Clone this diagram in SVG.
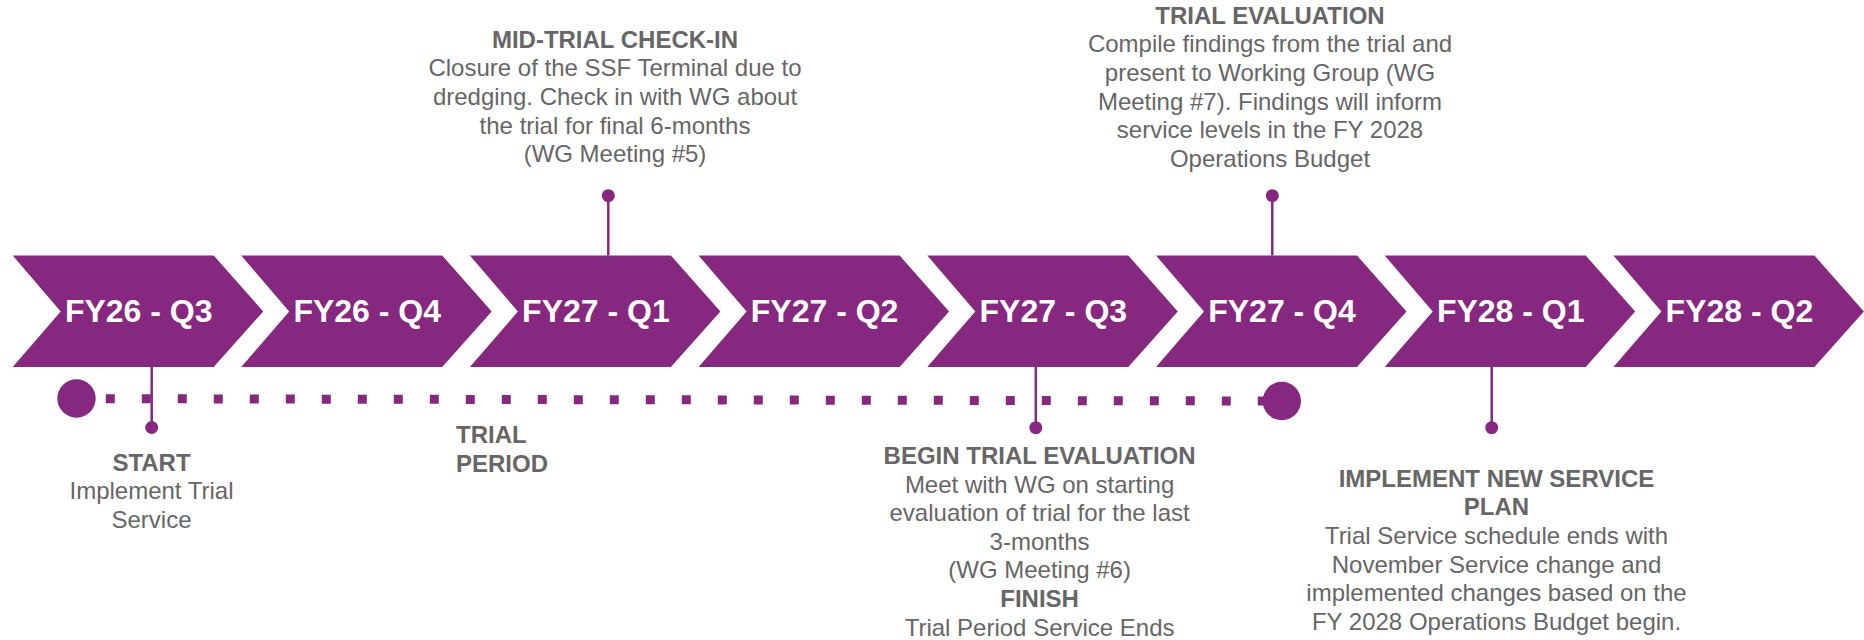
<svg xmlns="http://www.w3.org/2000/svg" width="1864" height="640" viewBox="0 0 1864 640">
  <defs>
    <style>
      .chev { fill: #86287F; }
      .chevtxt { font-family: "Liberation Sans", Arial, sans-serif; font-weight: bold; font-size: 32px; fill: #ffffff; text-anchor: middle; }
      .lbl { font-family: "Liberation Sans", Arial, sans-serif; font-size: 24px; fill: #666666; text-anchor: middle; }
      .lbl .b { font-weight: bold; }
      .left { text-anchor: start; }
      .conn { stroke: #86287F; stroke-width: 2.5; fill: none; }
      .pin { fill: #86287F; }
      .dots { stroke: #86287F; stroke-width: 9; stroke-dasharray: 9 27; fill: none; }
    </style>
    <polygon id="chevShape" points="0,255.5 201,255.5 250.5,311.5 201,367 0,367 48,311.5"/>
  </defs>

  <g id="chevrons">
    <g id="q-fy26-q3"><use href="#chevShape" class="chev" x="12.7"/><text class="chevtxt" x="138.7" y="322">FY26 - Q3</text></g>
    <g id="q-fy26-q4"><use href="#chevShape" class="chev" x="241.2"/><text class="chevtxt" x="367.2" y="322">FY26 - Q4</text></g>
    <g id="q-fy27-q1"><use href="#chevShape" class="chev" x="469.9"/><text class="chevtxt" x="595.9" y="322">FY27 - Q1</text></g>
    <g id="q-fy27-q2"><use href="#chevShape" class="chev" x="698.6"/><text class="chevtxt" x="824.6" y="322">FY27 - Q2</text></g>
    <g id="q-fy27-q3"><use href="#chevShape" class="chev" x="927.3"/><text class="chevtxt" x="1053.3" y="322">FY27 - Q3</text></g>
    <g id="q-fy27-q4"><use href="#chevShape" class="chev" x="1156"/><text class="chevtxt" x="1282" y="322">FY27 - Q4</text></g>
    <g id="q-fy28-q1"><use href="#chevShape" class="chev" x="1384.7"/><text class="chevtxt" x="1510.7" y="322">FY28 - Q1</text></g>
    <g id="q-fy28-q2"><use href="#chevShape" class="chev" x="1613.4"/><text class="chevtxt" x="1739.4" y="322">FY28 - Q2</text></g>
  </g>

  <g id="trial-period-line">
    <line class="dots" x1="105.8" y1="398.7" x2="1267" y2="401"/>
    <circle class="pin" cx="76.5" cy="398.5" r="19.2"/>
    <circle class="pin" cx="1281.8" cy="401" r="19.2"/>
  </g>

  <g id="connectors">
    <line class="conn" x1="151.7" y1="367" x2="151.7" y2="427.5"/>
    <circle class="pin" cx="151.7" cy="427.5" r="6.5"/>
    <line class="conn" x1="608.3" y1="195.7" x2="608.3" y2="255.5"/>
    <circle class="pin" cx="608.3" cy="195.7" r="6.5"/>
    <line class="conn" x1="1272.3" y1="195.7" x2="1272.3" y2="255.5"/>
    <circle class="pin" cx="1272.3" cy="195.7" r="6.5"/>
    <line class="conn" x1="1035.8" y1="367" x2="1035.8" y2="427.7"/>
    <circle class="pin" cx="1035.8" cy="427.7" r="6.5"/>
    <line class="conn" x1="1491.7" y1="367" x2="1491.7" y2="427.7"/>
    <circle class="pin" cx="1491.7" cy="427.7" r="6.5"/>
  </g>

  <g id="start">
    <text class="lbl"><tspan class="b" x="151.5" y="470.7">START</tspan><tspan x="151.5" y="499.4">Implement Trial</tspan><tspan x="151.5" y="528">Service</tspan></text>
  </g>

  <g id="trial-period">
    <text class="lbl left"><tspan class="b" x="456" y="443.3">TRIAL</tspan><tspan class="b" x="456" y="471.8">PERIOD</tspan></text>
  </g>

  <g id="mid-trial">
    <text class="lbl"><tspan class="b" x="615" y="47.7">MID-TRIAL CHECK-IN</tspan><tspan x="615" y="76.3">Closure of the SSF Terminal due to</tspan><tspan x="615" y="105">dredging. Check in with WG about</tspan><tspan x="615" y="133.6">the trial for final 6-months</tspan><tspan x="615" y="162.3">(WG Meeting #5)</tspan></text>
  </g>

  <g id="trial-evaluation">
    <text class="lbl"><tspan class="b" x="1270" y="23.5">TRIAL EVALUATION</tspan><tspan x="1270" y="52.3">Compile findings from the trial and</tspan><tspan x="1270" y="81">present to Working Group (WG</tspan><tspan x="1270" y="109.7">Meeting #7). Findings will inform</tspan><tspan x="1270" y="138.4">service levels in the FY 2028</tspan><tspan x="1270" y="167">Operations Budget</tspan></text>
  </g>

  <g id="begin-evaluation">
    <text class="lbl"><tspan class="b" x="1039.6" y="464">BEGIN TRIAL EVALUATION</tspan><tspan x="1039.6" y="492.6">Meet with WG on starting</tspan><tspan x="1039.6" y="521.2">evaluation of trial for the last</tspan><tspan x="1039.6" y="549.8">3-months</tspan><tspan x="1039.6" y="578.4">(WG Meeting #6)</tspan><tspan class="b" x="1039.6" y="607">FINISH</tspan><tspan x="1039.6" y="635.6">Trial Period Service Ends</tspan></text>
  </g>

  <g id="implement-new">
    <text class="lbl"><tspan class="b" x="1496.5" y="486.7">IMPLEMENT NEW SERVICE</tspan><tspan class="b" x="1496.5" y="515.4">PLAN</tspan><tspan x="1496.5" y="544">Trial Service schedule ends with</tspan><tspan x="1496.5" y="572.7">November Service change and</tspan><tspan x="1496.5" y="601.4">implemented changes based on the</tspan><tspan x="1496.5" y="630">FY 2028 Operations Budget begin.</tspan></text>
  </g>
</svg>
